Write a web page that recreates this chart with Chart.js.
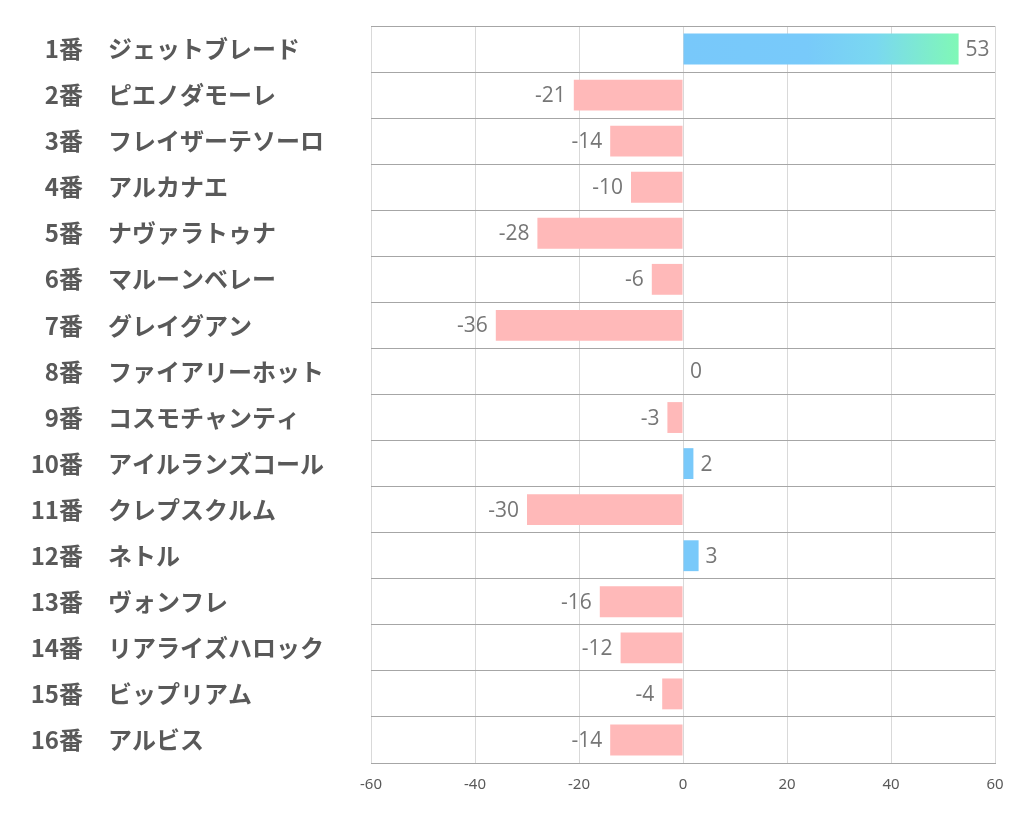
<!DOCTYPE html>
<html lang="ja">
<head>
<meta charset="UTF-8">
<title>馬番別 指数</title>
<script src="https://cdn.jsdelivr.net/npm/chart.js"></script>
<style>
  body { margin: 0; background: #fff; }
  #wrap { width: 1022px; height: 834px; }
</style>
</head>
<body>
<div id="wrap"><canvas id="chart" width="1022" height="834"></canvas></div>
<script>
// 馬番と馬名、値
const numbers = ['1番', '2番', '3番', '4番', '5番', '6番', '7番', '8番',
                 '9番', '10番', '11番', '12番', '13番', '14番', '15番', '16番'];
const horses = ['ジェットブレード', 'ピエノダモーレ', 'フレイザーテソーロ', 'アルカナエ',
                'ナヴァラトゥナ', 'マルーンベレー', 'グレイグアン', 'ファイアリーホット',
                'コスモチャンティ', 'アイルランズコール', 'クレプスクルム', 'ネトル',
                'ヴォンフレ', 'リアライズハロック', 'ビップリアム', 'アルビス'];
const scores = [53, -21, -14, -10, -28, -6, -36, 0, -3, 2, -30, 3, -16, -12, -4, -14];
const xTicks = [-60, -40, -20, 0, 20, 40, 60];

const labels = numbers.map((n, i) => n + '　' + horses[i]);

// 行ラベルを番号(右寄せ)と馬名(左寄せ)に分けて描く
const rowLabels = {
  id: 'rowLabels',
  afterDraw(chart) {
    const ctx = chart.ctx;
    const y = chart.scales.y;
    ctx.save();
    ctx.font = 'bold 24px "Noto Sans CJK JP"';
    ctx.fillStyle = '#595959';
    ctx.textBaseline = 'middle';
    numbers.forEach((n, i) => {
      const py = y.getPixelForValue(i);
      ctx.textAlign = 'right';
      ctx.fillText(n, 83, py);
      ctx.textAlign = 'left';
      ctx.fillText(horses[i], 108, py);
    });
    ctx.restore();
  }
};

// 値ラベル
const valueLabels = {
  id: 'valueLabels',
  afterDatasetsDraw(chart) {
    const ctx = chart.ctx;
    const meta = chart.getDatasetMeta(0);
    ctx.save();
    ctx.font = '21px "Open Sans"';
    ctx.fillStyle = '#767676';
    ctx.textBaseline = 'middle';
    meta.data.forEach((bar, i) => {
      const v = scores[i];
      if (v < 0) {
        ctx.textAlign = 'right';
        ctx.fillText(String(v), bar.x - 8, bar.y + 1);
      } else {
        ctx.textAlign = 'left';
        ctx.fillText(String(v), bar.x + 7, bar.y + 1);
      }
    });
    ctx.restore();
  }
};

function barColor(c) {
  const v = scores[c.dataIndex];
  if (v < 0) return '#ffb9b9';
  if (c.dataIndex === 0) {
    const chart = c.chart;
    if (!chart.chartArea) return '#79c9fa';
    const x = chart.scales.x;
    const g = chart.ctx.createLinearGradient(x.getPixelForValue(0), 0, x.getPixelForValue(v), 0);
    g.addColorStop(0, '#78c8fa');
    g.addColorStop(0.45, '#78cafa');
    g.addColorStop(0.7, '#7ad8f0');
    g.addColorStop(1, '#80f8b6');
    return g;
  }
  return '#79c9fa';
}

new Chart(document.getElementById('chart'), {
  type: 'bar',
  data: {
    labels: labels,
    datasets: [{
      data: scores,
      backgroundColor: barColor,
      borderWidth: 0,
      barPercentage: 0.67,
      categoryPercentage: 1
    }]
  },
  options: {
    indexAxis: 'y',
    responsive: false,
    animation: false,
    layout: { padding: { left: 371, right: 27, top: 26, bottom: 27 } },
    plugins: { legend: { display: false }, tooltip: { enabled: false } },
    scales: {
      x: {
        min: -60, max: 60,
        afterBuildTicks(s) { s.ticks = xTicks.map(v => ({ value: v })); },
        grid: { color: '#d9d9d9', drawTicks: false },
        border: { color: '#a6a6a6' },
        ticks: { color: '#595959', font: { family: 'Noto Sans', size: 15 }, padding: 13 }
      },
      y: {
        grid: { color: '#a6a6a6', offset: true, drawTicks: false },
        border: { display: false },
        ticks: { display: false }
      }
    }
  },
  plugins: [rowLabels, valueLabels]
});
</script>
</body>
</html>
